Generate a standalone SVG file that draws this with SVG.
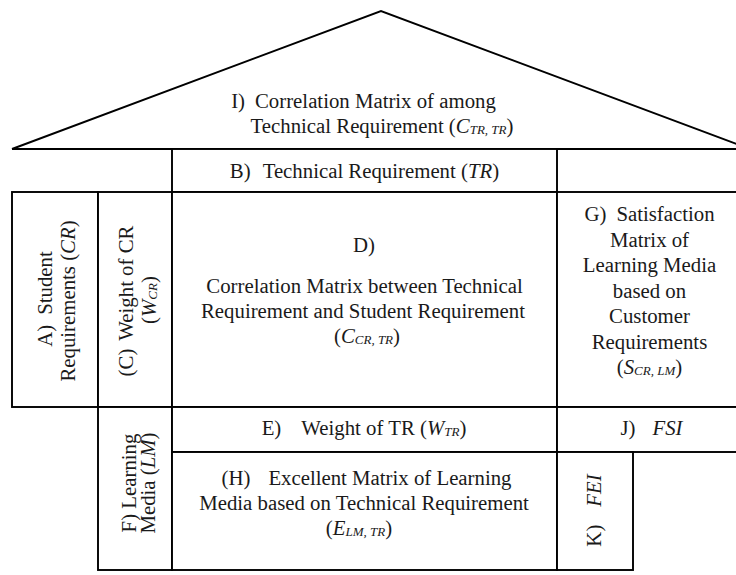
<svg xmlns="http://www.w3.org/2000/svg" width="736" height="575" viewBox="0 0 736 575" font-family="Liberation Serif, DejaVu Serif, serif">
<style>
  .ln { fill: none; stroke: #000; stroke-width: 1.9; }
  .bx { fill: #fff; stroke: #000; stroke-width: 1.9; }
  text { font-family: 'Liberation Serif', 'DejaVu Serif', serif; font-size: 20.8px; fill: #1a1a1a; }
  .c { text-anchor: middle; }
  .i { font-style: italic; }
  .s { font-style: italic; font-size: 13px; }
</style>
<rect width="736" height="575" fill="#fff"/>

<g id="I">
  <path class="ln" d="M12,149 L381,11 L750,149"/>
  <text class="c" x="363.5" y="108">I)<tspan dx="10">Correlation Matrix of among</tspan></text>
  <text class="c" x="382" y="133">Technical Requirement (<tspan class="i">C</tspan><tspan class="s" dy="1">TR, TR</tspan><tspan dy="-1">)</tspan></text>
</g>

<g id="B">
  <path class="ln" d="M12,149 H736"/>
  <rect class="bx" x="172" y="149" width="385" height="43"/>
  <text class="c" x="364.5" y="178">B)<tspan dx="12">Technical Requirement (</tspan><tspan class="i">TR</tspan>)</text>
</g>

<g id="A">
  <rect class="bx" x="12" y="192" width="86" height="215"/>
  <text class="c" transform="translate(51.5,299) rotate(-90)">A)<tspan dx="10">Student</tspan></text>
  <text class="c" transform="translate(75,301) rotate(-90)">Requirements (<tspan class="i">CR</tspan>)</text>
</g>

<g id="C">
  <rect class="bx" x="98" y="192" width="74" height="215"/>
  <text class="c" transform="translate(132.5,301) rotate(-90)">(C)<tspan dx="8">Weight of CR</tspan></text>
  <text class="c" transform="translate(156,300) rotate(-90)">(<tspan class="i">W</tspan><tspan class="s" dy="1">CR</tspan><tspan dy="-1">)</tspan></text>
</g>

<g id="D">
  <rect class="bx" x="172" y="192" width="385" height="215"/>
  <text class="c" x="364" y="252">D)</text>
  <text class="c" x="364.5" y="293">Correlation Matrix between Technical</text>
  <text class="c" x="363" y="318">Requirement and Student Requirement</text>
  <text class="c" x="367" y="343">(<tspan class="i">C</tspan><tspan class="s" dy="1">CR, TR</tspan><tspan dy="-1">)</tspan></text>
</g>

<g id="G">
  <rect class="bx" x="557" y="192" width="185" height="215"/>
  <text class="c" x="649.5" y="221">G)<tspan dx="10">Satisfaction</tspan></text>
  <text class="c" x="649.5" y="246.5">Matrix of</text>
  <text class="c" x="649.5" y="272">Learning Media</text>
  <text class="c" x="649.5" y="297.5">based on</text>
  <text class="c" x="649.5" y="323">Customer</text>
  <text class="c" x="649.5" y="348.5">Requirements</text>
  <text class="c" x="649.5" y="374">(<tspan class="i">S</tspan><tspan class="s" dy="1">CR, LM</tspan><tspan dy="-1">)</tspan></text>
</g>

<g id="F">
  <rect class="bx" x="98" y="407" width="74" height="163"/>
  <text class="c" transform="translate(135.5,483) rotate(-90)">F) Learning</text>
  <text class="c" transform="translate(154.5,483) rotate(-90)">Media (<tspan class="i">LM</tspan>)</text>
</g>

<g id="E">
  <rect class="bx" x="172" y="407" width="385" height="45"/>
  <text class="c" x="364" y="435">E)<tspan dx="20">Weight of TR (</tspan><tspan class="i">W</tspan><tspan class="s" dy="1">TR</tspan><tspan dy="-1">)</tspan></text>
</g>

<g id="J">
  <rect class="bx" x="557" y="407" width="185" height="45"/>
  <text class="c" x="651.5" y="435">J)<tspan class="i" dx="17">FSI</tspan></text>
</g>

<g id="H">
  <rect class="bx" x="172" y="452" width="385" height="118"/>
  <text class="c" x="366.5" y="485">(H)<tspan dx="18">Excellent Matrix of Learning</tspan></text>
  <text class="c" x="364" y="510">Media based on Technical Requirement</text>
  <text class="c" x="359" y="535">(<tspan class="i">E</tspan><tspan class="s" dy="1">LM, TR</tspan><tspan dy="-1">)</tspan></text>
</g>

<g id="K">
  <rect class="bx" x="557" y="452" width="76" height="118"/>
  <text class="c" transform="translate(600.5,510.5) rotate(-90)">K)<tspan class="i" dx="18">FEI</tspan></text>
</g>
</svg>
